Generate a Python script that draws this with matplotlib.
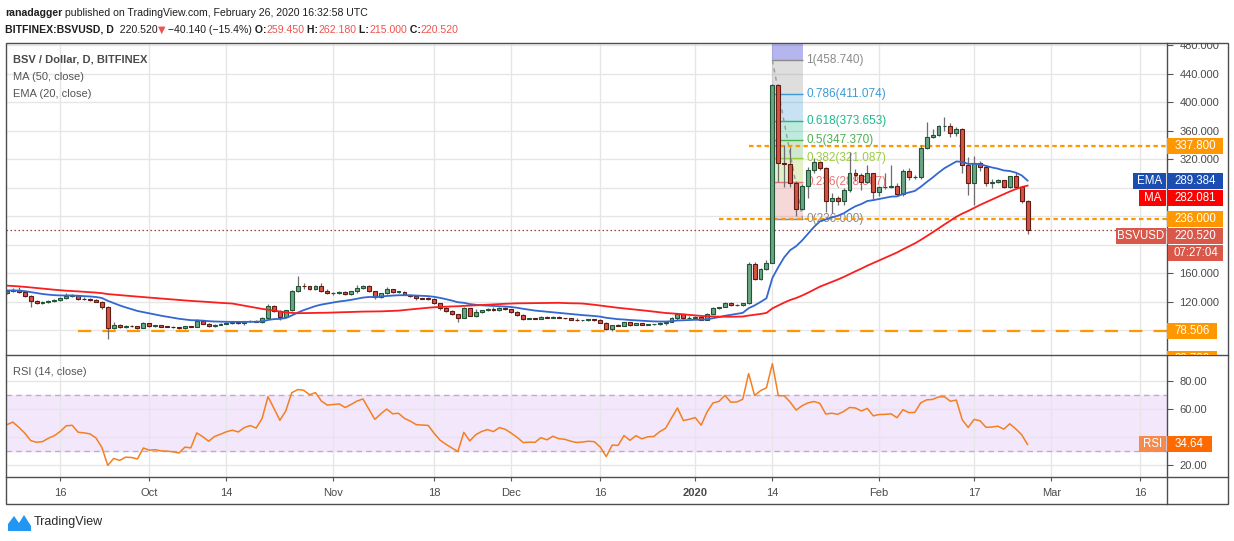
import numpy as np
import pandas as pd
import matplotlib
matplotlib.use("Agg")
import matplotlib.pyplot as plt
from matplotlib.patches import Rectangle, Polygon
from matplotlib.lines import Line2D
from matplotlib.ticker import FuncFormatter
from matplotlib.transforms import blended_transform_factory

plt.rcParams['font.family'] = ['Liberation Sans', 'DejaVu Sans']

# ---------------- data ----------------
start_date = '2019-09-07'
first_open = 132.5

closes = [
    135, 137, 133, 128, 120.5, 118.6, 119, 121, 122.5, 125,
    128.5, 128.8, 124, 123.5, 122.8, 120, 112, 83.6, 88, 84,
    86, 85.5, 83, 89.5, 86.5, 86.8, 85.2, 85, 84.2, 82.8,
    85.5, 84.8, 92.3, 89.3, 85.5, 88, 89.2, 90.5, 91.3, 90.2,
    92.3, 93.3, 92, 96.7, 114, 107.4, 99, 108, 135, 142,
    141.5, 138, 142, 135.4, 132, 132.8, 133.6, 131, 134.5, 138.8,
    141.5, 134.5, 126.2, 131.8, 137.4, 133.6, 134, 130, 127.7, 124.8,
    124.5, 124.2, 117.8, 111.2, 106.6, 102.3, 97.6, 110.8, 100.4, 105.6,
    108.4, 110, 108, 111.2, 109.6, 106, 101.8, 96.2, 96.4, 96.3,
    99, 97, 99, 97, 96.5, 95, 94, 94.2, 94.5, 94.2,
    90.6, 82.2, 86.9, 86.6, 91, 87.5, 89.7, 87.5, 88.4, 88.5,
    90.5, 92, 97, 103.2, 96.7, 97.5, 98.5, 94.4, 103, 110.7,
    112.2, 118.6, 115, 115.2, 117.8, 172.8, 152.2, 165.4, 174.6, 423.6,
    314, 313.5, 286.7, 250.3, 282, 304.5, 315.3, 307.7, 261, 266,
    261.5, 276.5, 300, 298, 287.3, 300.7, 274.1, 280.3, 280.8, 283,
    271, 303, 294.3, 295.2, 336.3, 351.5, 353.6, 366.2, 366.8, 357,
    362, 311.5, 286, 313.9, 309.1, 286.7, 287.7, 290.1, 280.8, 295.7,
    280.3, 260.66, 220.52]

highs = [
    137, 139.5, 140, 134, 129, 122, 121.5, 122.5, 124, 126.5,
    132, 131.5, 129.5, 126, 125.5, 123.5, 121, 114, 91, 89,
    87.5, 87, 86.5, 91, 90.5, 88, 88, 86.5, 85.5, 85,
    86.5, 86.5, 96, 94.5, 90, 89, 90, 91.5, 92.5, 92,
    93.5, 94, 94.5, 98, 117, 116, 108, 109, 136.5, 156,
    146, 142.5, 144, 146, 137.5, 134, 135, 134.5, 135, 143,
    143.5, 143, 135, 132.5, 141, 137.5, 135, 134.5, 131, 128.5,
    125.5, 126, 125, 118, 112, 109, 103, 112, 111.5, 110,
    109, 111, 112, 112, 112, 110, 106.5, 103, 97, 97,
    99.5, 99.5, 99.5, 99.5, 97.5, 97, 96.5, 95, 95.5, 95,
    95.5, 91, 87.5, 88.5, 91.5, 91, 90.5, 90.5, 89, 89,
    92, 93.5, 98, 104, 103.5, 99.5, 100, 99, 104, 112,
    113, 119, 119.5, 116.5, 118.5, 176, 176, 167, 178, 425,
    426, 339.5, 337, 290, 285, 309, 322, 318, 309, 272,
    268, 280, 330, 306, 300, 312, 301, 283, 300, 312,
    286, 306, 307, 298, 340, 372, 362, 368, 379, 370,
    365, 363, 323, 325, 317, 312, 292, 291.5, 291, 297,
    301, 281, 262.18]

lows = [
    131, 134, 132, 127, 112, 117, 117.5, 118, 120, 121,
    124, 126.5, 122.5, 122, 121, 119, 110.5, 68, 82, 82.5,
    83, 84, 81.5, 82.5, 85, 85, 84, 84, 83, 81.5,
    82, 84, 84.5, 88.5, 84, 84.5, 87.5, 88.5, 88.5, 89,
    88, 91, 91, 90, 96, 106, 95, 98, 107, 133,
    138, 136, 137, 134, 131, 130, 131.5, 130, 130, 132,
    138, 133.5, 124, 125.5, 130.5, 132.5, 132.5, 129.5, 126.5, 123,
    123.5, 122.5, 116.5, 108, 105, 101, 92, 96.5, 99.5, 98,
    104.5, 106.5, 107, 107, 108.5, 104.5, 100, 95, 95.5, 95.5,
    96, 96.5, 96.5, 96.5, 95.5, 94, 93, 93, 93.5, 93,
    90, 81, 78.5, 86, 86.5, 86.5, 87, 87, 87, 87.5,
    88, 88, 92, 94.5, 96, 96.5, 96.5, 94, 94, 102.5,
    110, 112, 114.5, 114, 114, 117, 150, 150, 165, 174.6,
    288, 281, 281, 240, 248, 266, 300, 305, 246, 245,
    255, 256, 274, 290, 277, 287, 263.5, 268, 278, 279,
    268, 269, 291, 292, 292, 334, 349, 352, 360, 351,
    352, 300.7, 269.5, 255.5, 304, 283, 279, 286, 279, 280,
    279, 258, 215]

# closes before the visible window, only used to warm up the 50-day MA
prior_closes = [
    162, 160, 163, 159, 161, 164, 160, 158, 162, 161,
    151, 149, 152, 150, 148, 151, 150,
    122, 120, 123, 119, 121, 122, 120, 118, 123, 121,
    117, 115, 118, 116, 114, 117, 116, 115, 118, 116, 115,
    166, 170, 168, 165, 169, 171, 167, 168, 166, 170, 168]
ema_seed = 135.8
rsi_seed_gain, rsi_seed_loss = 2.0, 2.1

tick_dates = ['2019-09-16', '2019-10-01', '2019-10-14', '2019-11-01', '2019-11-18',
              '2019-12-01', '2019-12-16', '2020-01-01', '2020-01-14', '2020-02-01',
              '2020-02-17', '2020-03-01', '2020-03-16']
tick_labels = ['16', 'Oct', '14', 'Nov', '18', 'Dec', '16', '2020', '14', 'Feb', '17', 'Mar', '16']

price_ticks = [80, 120, 160, 200, 240, 280, 320, 360, 400, 440, 480]
price_ticks_hidden = [80, 200, 240, 280]      # covered by the coloured scale labels
rsi_ticks = [20, 40, 60, 80]
rsi_ticks_hidden = [40]

fib_low, fib_high = 236.0, 458.74
fib_levels = [0, 0.236, 0.382, 0.5, 0.618, 0.786, 1, 1.618]
fib_colors = ['#8a8a8a', '#e57373', '#9ccc3c', '#4caf50', '#1bb98a', '#3d9ad5', '#8a8a8a', '#3030d0']
fib_start, fib_end = '2020-01-14', '2020-01-19'

hlines = [(337.8, '2020-01-10', 'short'), (236.0, '2020-01-05', 'short'), (78.506, '2019-09-19', 'long')]
lower_level = 39.7
last_price = 220.52
ema_last, ma_last, rsi_last = 289.384, 282.081, 34.64
countdown = '07:27:04'

# ---------------- indicators ----------------
c = np.array(closes, dtype=float)
o = np.r_[first_open, c[:-1]]
h = np.array(highs, dtype=float)
l = np.array(lows, dtype=float)
x = np.arange(len(c))

ma = pd.Series(prior_closes + closes).rolling(50).mean().values[len(prior_closes):]

ema = np.empty_like(c)
ema[0] = ema_seed
k = 2 / 21
for i in range(1, len(c)):
    ema[i] = ema[i - 1] + k * (c[i] - ema[i - 1])

rsi = np.empty_like(c)
ag, al = rsi_seed_gain, rsi_seed_loss
rsi[0] = 100 - 100 / (1 + ag / al)
for i in range(1, len(c)):
    d = c[i] - c[i - 1]
    ag = (ag * 13 + max(d, 0)) / 14
    al = (al * 13 + max(-d, 0)) / 14
    rsi[i] = 100 - 100 / (1 + ag / al)


def day(d):
    return (pd.Timestamp(d) - pd.Timestamp(start_date)).days


# ---------------- figure ----------------
W, H = 1234, 541
fig = plt.figure(figsize=(W / 100, H / 100), dpi=100)
fig.patch.set_facecolor('white')


def box(x0, y0, x1, y1):
    return [x0 / W, 1 - y1 / H, (x1 - x0) / W, (y1 - y0) / H]


ax = fig.add_axes(box(6, 43, 1167, 355))
sax = fig.add_axes(box(1167, 43, 1228, 355), sharey=ax)
rax = fig.add_axes(box(6, 355, 1167, 477), sharex=ax)
rsax = fig.add_axes(box(1167, 355, 1228, 477), sharey=rax)
for a in (sax, rsax):
    a.set_axis_off()

ax.set_xlim(-0.15, 195.5)
ax.set_ylim(45.3, 482.9)
rax.set_ylim(11.4, 98.6)

txt = '#4a4a4a'
xt = [day(d) for d in tick_dates]
for a in (ax, rax):
    for s in a.spines.values():
        s.set_visible(False)
    a.set_xticks(xt)
    a.grid(color='#e6e6e6', lw=1)
    a.set_axisbelow(True)
    a.yaxis.tick_right()
    a.tick_params(axis='y', direction='out', length=4, pad=5, labelsize=8,
                  labelcolor=txt, color='#555555')

ax.set_yticks(price_ticks)
ax.yaxis.set_major_formatter(FuncFormatter(
    lambda v, p: '' if round(v) in price_ticks_hidden else f"{v:.3f}"))
ax.tick_params(axis='x', length=0, labelbottom=False)
rax.set_yticks(rsi_ticks)
rax.yaxis.set_major_formatter(FuncFormatter(
    lambda v, p: '' if round(v) in rsi_ticks_hidden else f"{v:.2f}"))
rax.set_xticklabels(tick_labels)
rax.tick_params(axis='x', direction='out', length=3, pad=5, labelsize=8,
                labelcolor=txt, color='#555555')
for lab in rax.get_xticklabels():
    if lab.get_text() == '2020':
        lab.set_fontweight('bold')
for t in ax.yaxis.get_major_ticks():
    t.label2.set_clip_path(sax.patch)

# candles
up = c >= o
body_lo = np.minimum(o, c)
body_h = np.maximum(np.abs(c - o), 0.9)
ax.vlines(x, l, h, color='#6d6d70', lw=0.9, zorder=3)
ax.bar(x, body_h, bottom=body_lo, width=0.66,
       color=np.where(up, '#6ba583', '#d75442'),
       edgecolor=np.where(up, '#225437', '#5e1d14'), linewidth=0.8, zorder=4)

ax.plot(x, ema, color='#3467cf', lw=1.3, zorder=5)
ax.plot(x, ma, color='#fa1e1e', lw=1.3, zorder=5)

# fibonacci retracement
fx0, fx1 = day(fib_start), day(fib_end) + 0.1
fvals = [fib_low + lv * (fib_high - fib_low) for lv in fib_levels]
for j in range(len(fib_levels) - 1):
    alpha = 0.35 if j == len(fib_levels) - 2 else 0.28
    ax.fill_between([fx0, fx1], fvals[j], fvals[j + 1], color=fib_colors[j + 1],
                    alpha=alpha, lw=0, zorder=1)
for lv, v, col in zip(fib_levels[:-1], fvals[:-1], fib_colors[:-1]):
    ax.hlines(v, fx0, fx1, color=col, lw=1, zorder=2)
    ax.text(fx1 + 0.6, v, f"{lv:g}({v:.3f})", color=col, fontsize=8.5,
            va='center', ha='left', zorder=2)
ax.plot([fx0, fx1], [fib_high, fib_low], color='#9a9a9a', lw=1, ls=(0, (3, 3)), zorder=2)

# horizontal levels
for val, d0, kind in hlines:
    ls = (0, (2, 1.5)) if kind == 'short' else (0, (6, 5))
    ax.hlines(val, day(d0), 195.5, color='#ff9800', lw=1.6, linestyles=[ls], zorder=2)
ax.axhline(last_price, color='#b23b30', lw=0.9, ls=(0, (1.2, 2)), zorder=2)

# RSI panel
rax.axhspan(30, 70, color='#f3e7fc', zorder=0)
for lv in (30, 70):
    rax.axhline(lv, color='#b8b0c4', lw=1, ls=(0, (4, 3)), zorder=1)
rax.plot(x, rsi, color='#f57f20', lw=1.1, zorder=3)

# ---------------- price scale labels ----------------
PX_MAIN = (482.9 - 45.3) / 312.0
PX_RSI = (98.6 - 11.4) / 122.0


def scale_label(axis, clip_ax, value, text, color, x0=1167, x1=1223, dy=0.0,
                name=None, name_x0=None, name_color=None, upp=PX_MAIN):
    tr = blended_transform_factory(fig.transFigure, axis.transData)
    yc = value - dy * upp
    hh = 16 * upp
    r = Rectangle((x0 / W, yc - hh / 2), (x1 - x0) / W, hh, transform=tr,
                  facecolor=color, edgecolor='none', zorder=10)
    fig.add_artist(r)
    r.set_clip_path(clip_ax.patch)
    t = fig.text((x0 + x1) / 2 / W, yc, text, transform=tr, color='white',
                 fontsize=8.3, ha='center', va='center', zorder=11)
    t.set_clip_path(clip_ax.patch)
    if name:
        r2 = Rectangle((name_x0 / W, yc - hh / 2), (1166 - name_x0) / W, hh,
                       transform=tr, facecolor=name_color or color, edgecolor='none', zorder=10)
        fig.add_artist(r2)
        fig.text((name_x0 + 1166) / 2 / W, yc, name, transform=tr, color='white',
                 fontsize=8.3, ha='center', va='center', zorder=11)


orange = '#ff9800'
scale_label(ax, sax, 337.8, f"{337.8:.3f}", orange)
scale_label(ax, sax, ema_last, f"{ema_last:.3f}", '#1c4db0', name='EMA', name_x0=1133)
scale_label(ax, sax, ma_last, f"{ma_last:.3f}", '#ff0000', dy=11.5, name='MA', name_x0=1139)
scale_label(ax, sax, 236.0, f"{236.0:.3f}", orange)
scale_label(ax, sax, last_price, f"{last_price:.3f}", '#d9584a', dy=5.5,
            name='BSVUSD', name_x0=1116)
scale_label(ax, sax, last_price, countdown, '#d9584a', x0=1168, dy=23.2)
scale_label(ax, sax, 78.506, f"{78.506:.3f}", orange, x1=1217)
scale_label(ax, sax, lower_level, f"{lower_level:.3f}", orange, x1=1217)
scale_label(rax, rsax, rsi_last, f"{rsi_last:.2f}", '#ff6a00', x1=1212,
            name='RSI', name_x0=1139, name_color='#f7894a', upp=PX_RSI)

# ---------------- frame ----------------
fig.add_artist(Rectangle((6 / W, 1 - 504 / H), (1228 - 6) / W, (504 - 43) / H,
                         fill=False, ec='#4d4d4d', lw=1, transform=fig.transFigure))
fig.add_artist(Line2D([1167 / W] * 2, [1 - 43 / H, 1 - 504 / H], color='#4d4d4d', lw=1))
for yy in (355, 477):
    fig.add_artist(Line2D([6 / W, 1228 / W], [1 - yy / H] * 2, color='#4d4d4d', lw=1))

# ---------------- texts ----------------
renderer = fig.canvas.get_renderer()


def seq(x0, y, parts, size=7.6):
    xx = x0
    for s, kw in parts:
        kw = dict(kw)
        kw.setdefault('fontsize', size)
        t = fig.text(xx / W, 1 - y / H, s, va='center', ha='left', **kw)
        xx += t.get_window_extent(renderer).width


dark = '#1e1e1e'
red = '#ef5350'
seq(5, 12.5, [('ranadagger', dict(color=dark, fontweight='bold')),
              (' published on TradingView.com, February 26, 2020 16:32:58 UTC', dict(color=dark))])
seq(5, 30, [('BITFINEX:BSVUSD, D', dict(color=dark, fontweight='bold')),
            ('  220.520', dict(color=dark)),
            ('\u25bc', dict(color=red, family=['DejaVu Sans'], fontsize=7)),
            (' \u221240.140 (\u221215.4%)', dict(color=dark)),
            (' O:', dict(color=dark, fontweight='bold')), ('259.450', dict(color=red)),
            (' H:', dict(color=dark, fontweight='bold')), ('262.180', dict(color=red)),
            (' L:', dict(color=dark, fontweight='bold')), ('215.000', dict(color=red)),
            (' C:', dict(color=dark, fontweight='bold')), ('220.520', dict(color=red))])

fig.text(13 / W, 1 - 60 / H, 'BSV / Dollar, D, BITFINEX', fontsize=8, color='#4a4a4a',
         fontweight='bold', va='center')
fig.text(13 / W, 1 - 77 / H, 'MA (50, close)', fontsize=8, color='#555555', va='center')
fig.text(13 / W, 1 - 94 / H, 'EMA (20, close)', fontsize=8, color='#555555', va='center')
fig.text(13 / W, 1 - 372 / H, 'RSI (14, close)', fontsize=8, color='#555555', va='center')

# TradingView logo
logo = [(8, 531), (8, 524), (14, 516), (19, 523), (24, 515), (31, 526), (31, 531)]
fig.add_artist(Polygon([(px / W, 1 - py / H) for px, py in logo], closed=True,
                       facecolor='#2196f3', edgecolor='none', transform=fig.transFigure))
fig.text(34 / W, 1 - 522 / H, 'TradingView', fontsize=9, color='#2a2a2a', va='center')

fig.savefig('out.png', dpi=100, facecolor='white')
